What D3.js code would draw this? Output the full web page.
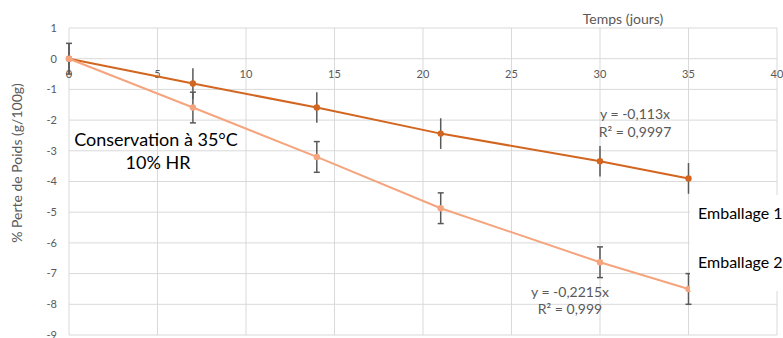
<!DOCTYPE html>
<meta charset="utf-8">
<html>
    <head>
        <script src="https://d3js.org/d3.v7.min.js"></script>
    </head>
    <style>
        body { margin: 0; background: #fff; }
        text { font-family: Lato, "Open Sans", sans-serif; }
    </style>
    <body>
        <div id="chart"></div>
        <script>

            // data
            var days = [0, 7, 14, 21, 30, 35];
            var emballage1 = [0, -0.81, -1.59, -2.44, -3.34, -3.9];
            var emballage2 = [0, -1.59, -3.2, -4.87, -6.63, -7.5];
            var erreur1 = [0.5, 0.5, 0.5, 0.5, 0.5, 0.5];
            var erreur2 = [0.5, 0.5, 0.5, 0.5, 0.5, 0.5];
            var xTicks = [0, 5, 10, 15, 20, 25, 30, 35, 40];
            var yTicks = [1, 0, -1, -2, -3, -4, -5, -6, -7, -8, -9];
            var seriesNames = ["Emballage 1", "Emballage 2"];

            var width = 783, height = 338;
            var x = d3.scaleLinear().domain([0, 40]).range([69, 777]);
            var y = d3.scaleLinear().domain([-9, 1]).range([335, 28]);

            var svg = d3.select("#chart")
                .append("svg")
                .attr("width", width)
                .attr("height", height);

            // gridlines
            svg.append("g")
                .selectAll("line")
                .data(yTicks)
                .join("line")
                .attr("x1", x(0)).attr("x2", x(40))
                .attr("y1", d => y(d)).attr("y2", d => y(d))
                .attr("stroke", "#d9d9d9")
                .attr("stroke-width", 1);

            svg.append("g")
                .selectAll("line")
                .data(xTicks)
                .join("line")
                .attr("x1", d => x(d)).attr("x2", d => x(d))
                .attr("y1", y(1)).attr("y2", y(-9))
                .attr("stroke", "#d9d9d9")
                .attr("stroke-width", 1);

            // y tick labels
            svg.append("g")
                .attr("font-size", 11)
                .attr("fill", "#595959")
                .attr("text-anchor", "end")
                .selectAll("text")
                .data(yTicks)
                .join("text")
                .attr("x", 57)
                .attr("y", d => y(d))
                .attr("dy", "0.35em")
                .text(d => d);

            // x tick labels, sitting under the zero line
            svg.append("g")
                .attr("font-size", 11)
                .attr("fill", "#595959")
                .attr("text-anchor", "middle")
                .selectAll("text")
                .data(xTicks)
                .join("text")
                .attr("x", d => x(d))
                .attr("y", y(0) + 15)
                .attr("dy", "0.35em")
                .text(d => d);

            // axis titles
            svg.append("text")
                .attr("x", 623)
                .attr("y", 19)
                .attr("dy", "0.35em")
                .attr("text-anchor", "middle")
                .attr("font-size", 14)
                .attr("fill", "#595959")
                .text("Temps (jours)");

            svg.append("text")
                .attr("transform", "translate(17," + 163 + ") rotate(-90)")
                .attr("dy", "0.35em")
                .attr("text-anchor", "middle")
                .attr("font-size", 14)
                .attr("fill", "#595959")
                .text("% Perte de Poids (g/100g)");

            var line = d3.line()
                .x((d, i) => x(days[i]))
                .y(d => y(d));

            var series = [
                { name: seriesNames[0], values: emballage1, err: erreur1, color: "#d2651f", caps: false },
                { name: seriesNames[1], values: emballage2, err: erreur2, color: "#f5a47d", caps: true }
            ];

            series.forEach(function (s) {
                svg.append("path")
                    .datum(s.values)
                    .attr("fill", "none")
                    .attr("stroke", s.color)
                    .attr("stroke-width", 2)
                    .attr("d", line);

                var eb = svg.append("g")
                    .attr("stroke", "#595959")
                    .attr("stroke-width", 1.5);

                eb.selectAll("line.bar")
                    .data(s.values)
                    .join("line")
                    .attr("class", "bar")
                    .attr("x1", (d, i) => x(days[i])).attr("x2", (d, i) => x(days[i]))
                    .attr("y1", (d, i) => y(d + s.err[i]))
                    .attr("y2", (d, i) => y(d - s.err[i]));

                if (s.caps) {
                    [1, -1].forEach(function (sign) {
                        eb.selectAll("line.cap" + sign)
                            .data(s.values)
                            .join("line")
                            .attr("x1", (d, i) => x(days[i]) - 3).attr("x2", (d, i) => x(days[i]) + 3)
                            .attr("y1", (d, i) => y(d + sign * s.err[i]))
                            .attr("y2", (d, i) => y(d + sign * s.err[i]));
                    });
                }

                svg.append("g")
                    .selectAll("circle")
                    .data(s.values)
                    .join("circle")
                    .attr("cx", (d, i) => x(days[i]))
                    .attr("cy", d => y(d))
                    .attr("r", 3.2)
                    .attr("fill", s.color);
            });

            // trendline equations
            var eq = svg.append("g")
                .attr("font-size", 14)
                .attr("fill", "#595959")
                .attr("text-anchor", "middle");
            eq.append("text").attr("x", 635).attr("y", 114).attr("dy", "0.35em").text("y = -0,113x");
            eq.append("text").attr("x", 635).attr("y", 132).attr("dy", "0.35em").text("R² = 0,9997");
            eq.append("text").attr("x", 570).attr("y", 292).attr("dy", "0.35em").text("y = -0,2215x");
            eq.append("text").attr("x", 570).attr("y", 309).attr("dy", "0.35em").text("R² = 0,999");

            // conditions note
            var note = svg.append("g")
                .attr("font-size", 18)
                .attr("fill", "#000")
                .attr("text-anchor", "middle");
            note.append("text").attr("x", 156).attr("y", 140).attr("dy", "0.35em").text("Conservation à 35°C");
            note.append("text").attr("x", 158).attr("y", 163).attr("dy", "0.35em").text("10% HR");

            // legend (box overflows the right edge)
            var legend = svg.append("g");
            legend.append("rect")
                .attr("x", 690).attr("y", 195)
                .attr("width", 100).attr("height", 96)
                .attr("fill", "#fff");
            legend.selectAll("text")
                .data(seriesNames)
                .join("text")
                .attr("x", 698)
                .attr("y", (d, i) => 213 + i * 49)
                .attr("dy", "0.35em")
                .attr("font-size", 16)
                .attr("fill", "#000")
                .text(d => d);

        </script>
    </body>
</html>
